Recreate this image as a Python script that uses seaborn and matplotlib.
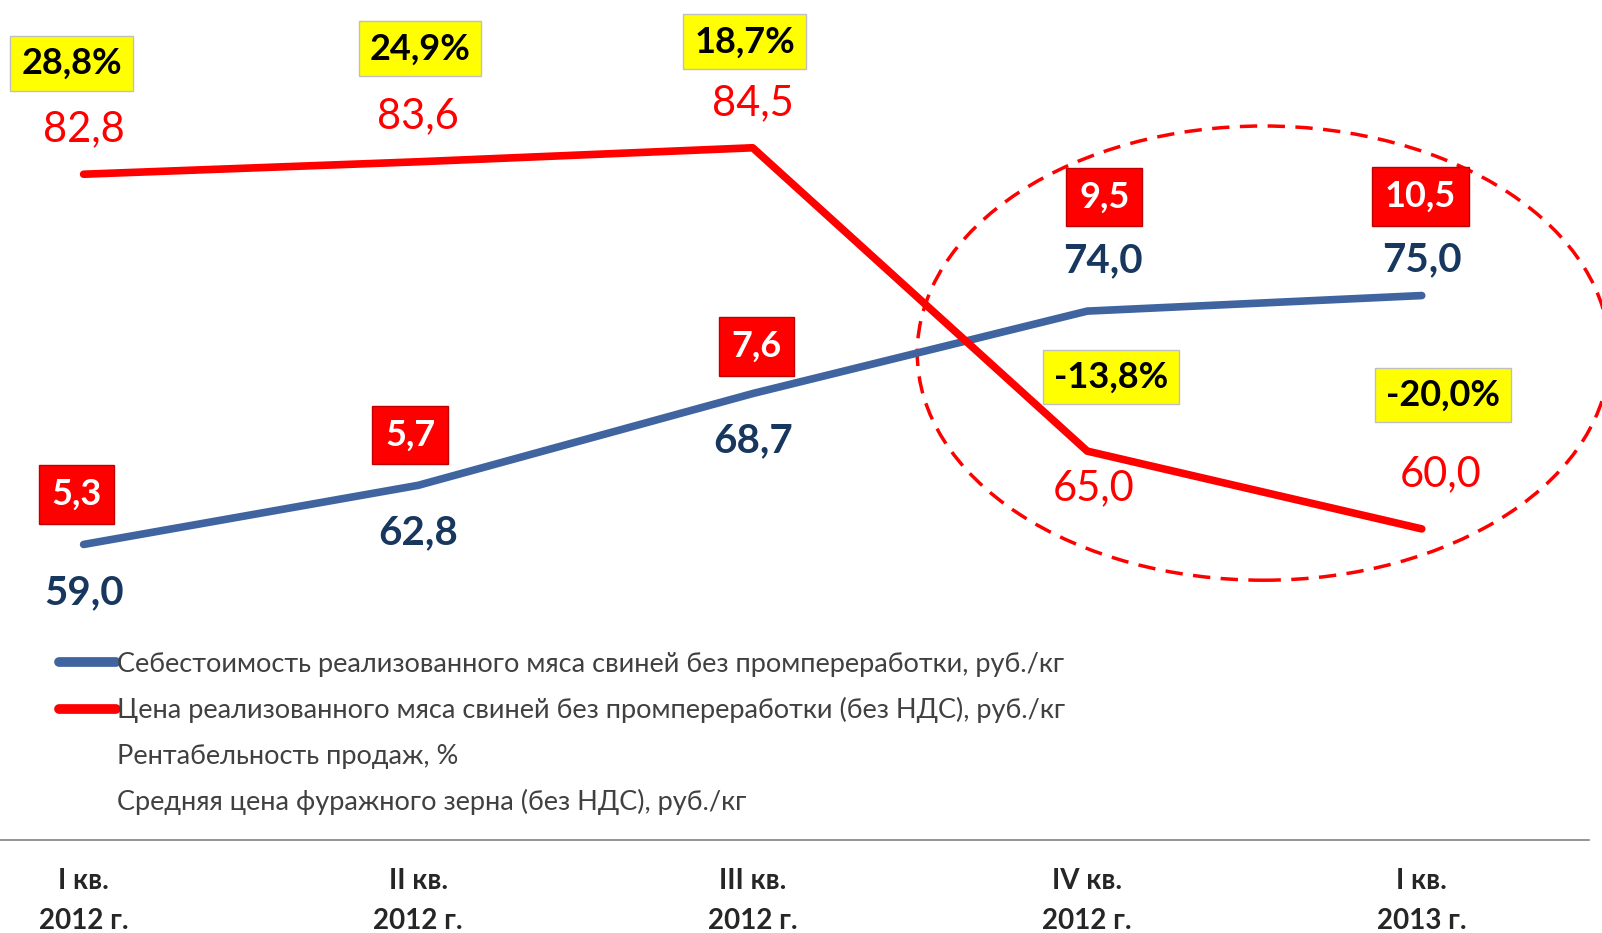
import matplotlib
matplotlib.use('Agg')
import matplotlib.pyplot as plt
import seaborn as sns
import pandas as pd
from matplotlib.patches import Ellipse
from matplotlib.lines import Line2D

# данные
quarters = ['I кв.\n2012 г.', 'II кв.\n2012 г.', 'III кв.\n2012 г.', 'IV кв.\n2012 г.', 'I кв.\n2013 г.']
cost = [59.0, 62.8, 68.7, 74.0, 75.0]
price = [82.8, 83.6, 84.5, 65.0, 60.0]
profit = [28.8, 24.9, 18.7, -13.8, -20.0]
grain = [5.3, 5.7, 7.6, 9.5, 10.5]
series_names = ['Себестоимость реализованного мяса свиней без промпереработки, руб./кг',
                'Цена реализованного мяса свиней без промпереработки (без НДС), руб./кг',
                'Рентабельность продаж, %',
                'Средняя цена фуражного зерна (без НДС), руб./кг']

# смещения подписей (пиксели)
cost_off = [(0, -48), (0, -47), (0, -47), (16, 50), (0, 36)]
price_off = [(0, 45), (0, 46), (0, 45), (6, -37), (19, 55)]
profit_off = [(-12, 111), (2, 113), (-8, 106), (24, 74), (21, 134)]
grain_off = [(-7, 50), (-8, 50), (4, 47), (17, 114), (-1, 99)]

BLUE = '#3F64A0'
NAVY = '#17375E'
RED = '#FF0000'

sns.set_style('white')
plt.rcParams['font.family'] = ['Lato', 'Open Sans', 'DejaVu Sans']

def fmt(v):
    return f'{v:.1f}'.replace('.', ',')

df = pd.DataFrame({
    'x': list(range(5)) * 2,
    'value': cost + price,
    'series': [series_names[0]] * 5 + [series_names[1]] * 5,
})

fig = plt.figure(figsize=(16.02, 9.33), dpi=100)
ax = fig.add_axes([0, 1 - 840 / 933, 1589 / 1602, 840 / 933])

sns.lineplot(data=df, x='x', y='value', hue='series', palette=[BLUE, RED],
             linewidth=5.5, ax=ax, legend=False)
for ln in ax.lines:
    ln.set_solid_capstyle('round')

ax.set_xlim(-0.25, 4.5)
ax.set_ylim(40, 94)

def put(txt, x, y, off, **kw):
    ax.annotate(txt, xy=(x, y), xytext=off, textcoords='offset pixels',
                ha='center', va='center', **kw)

for i in range(5):
    put(fmt(cost[i]), i, cost[i], cost_off[i], fontsize=29, fontweight='bold', color=NAVY)
    put(fmt(price[i]), i, price[i], price_off[i], fontsize=30, color=RED)
    put(fmt(profit[i]) + '%', i, price[i], profit_off[i], fontsize=26, fontweight='bold',
        color='black', bbox=dict(boxstyle='square,pad=0.3', fc='#FFFF00', ec='#BFBFBF', lw=1))
    put(fmt(grain[i]), i, cost[i], grain_off[i], fontsize=26, fontweight='bold',
        color='white', bbox=dict(boxstyle='square,pad=0.35', fc=RED, ec='#C00000', lw=1))

ax.add_patch(Ellipse((3.527, 71.3), 2.07, 29.2, fill=False, ec=RED, lw=2.5,
                     ls=(0, (5, 3)), clip_on=False))

handles = [Line2D([], [], color=BLUE, lw=7, solid_capstyle='round'),
           Line2D([], [], color=RED, lw=7, solid_capstyle='round'),
           Line2D([], [], color='none'),
           Line2D([], [], color='none')]
leg = ax.legend(handles, series_names, loc='upper left',
                bbox_to_anchor=(48 / 1602, 1 - 641 / 933), bbox_transform=fig.transFigure,
                frameon=False, fontsize=19.5, handlelength=2.1, handletextpad=0.05,
                labelspacing=0.75, borderaxespad=0)
for t in leg.get_texts():
    t.set_color('#404040')

ax.set_xticks(range(5))
ax.set_xticklabels(quarters, fontsize=20, fontweight='bold', linespacing=1.68)
ax.set_yticks([])
ax.tick_params(axis='x', length=0, pad=20)
ax.set_xlabel('')
ax.set_ylabel('')
for s in ['top', 'left', 'right']:
    ax.spines[s].set_visible(False)
ax.spines['bottom'].set_color('#808080')
ax.spines['bottom'].set_linewidth(1.2)

fig.savefig('out.png', dpi=100)
